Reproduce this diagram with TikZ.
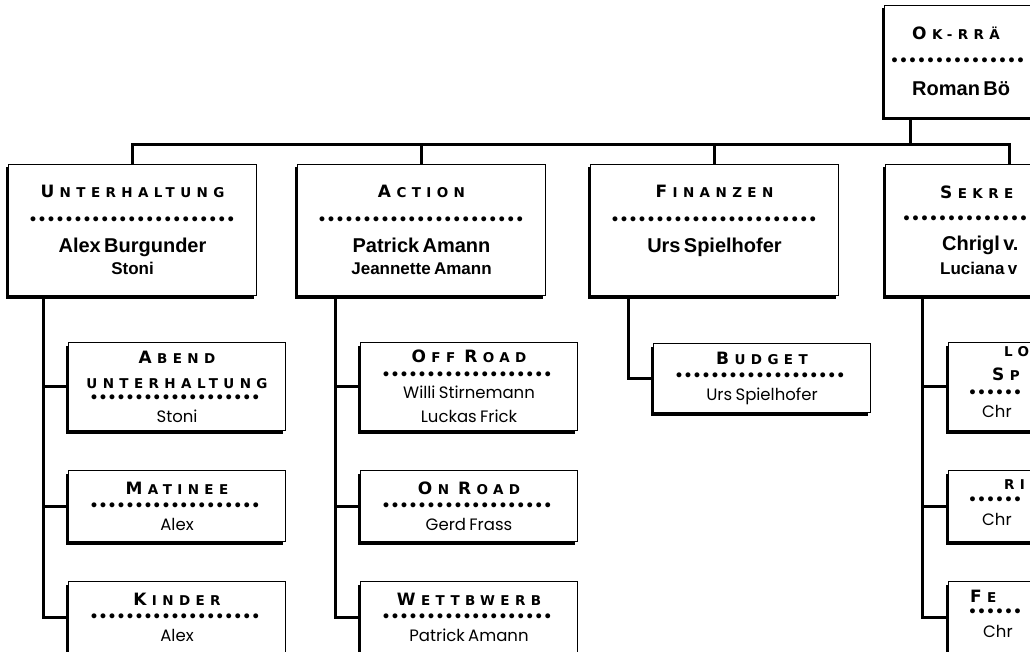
\documentclass[tikz,border=0pt]{standalone}
\usepackage{fontspec}
\usepackage{tikz}
\usetikzlibrary{positioning, shadows}
\newfontfamily\hdfont[LetterSpace=40]{DejaVu Sans}
\newfontfamily\nmfont{Liberation Sans}
\newfontfamily\ppfont{Poppins}
\newcommand\bg[1]{{\fontsize{17}{17}\selectfont #1}\kern5.4pt}
\newcommand\ws{\hspace{9pt}}
\newcommand\hd[2][20]{{\hdfont\bfseries\fontsize{13.5}{#1}\selectfont #2\par}}
\newcommand\dotrow[2][27]{{\hdfont\bfseries\fontsize{14}{#1}\selectfont\leavevmode\hbox to #2{\leaders\hbox to 9pt{\hss\textbullet\hss}\hfill}\par}}
\newcommand\nm[2][28]{{\nmfont\bfseries\fontsize{20}{#1}\selectfont #2\par}}
\newcommand\nmsm[2][22]{{\nmfont\bfseries\fontsize{17}{#1}\selectfont #2\par}}
\newcommand\pp[2][19.5]{{\ppfont\fontsize{16.5}{#1}\selectfont #2\par}}

\begin{document}
\begin{tikzpicture}[x=1pt, y=-1pt, node distance=39pt]
	\tikzstyle{box}=[draw, fill=white, line width=1pt, inner sep=0pt, align=center,
		execute at begin node=\setlength\parindent{0pt},
		drop shadow={shadow xshift=-3pt, shadow yshift=-3pt, fill=black, opacity=1}]
	\tikzstyle{chef}=[box, anchor=north west, text width=248pt, minimum height=131pt]
	\tikzstyle{sub}=[box, text width=217pt, minimum height=71pt]
	\tikzstyle{frag}=[anchor=west, inner sep=0pt, text width=200pt, align=left,
		execute at begin node=\setlength\parindent{0pt}]
	\tikzstyle{link}=[line width=3pt]
	
	\useasboundingbox (0,0) rectangle (1030,652);
	\clip (0,0) rectangle (1030,652);
	\fill[white] (0,0) rectangle (1030,652);
	
	\node[chef, minimum height=112pt] (l_0) at (884,5) {};
	\node[chef] (l_1) at (8,164) {\hd{\bg{U}NTERHALTUNG}\dotrow{208pt}\nm{Alex Burgunder}\nmsm{Stoni}};
	\node[chef] (l_2) at (297,164) {\hd{\bg{A}CTION}\dotrow{208pt}\nm{Patrick Amann}\nmsm{Jeannette Amann}};
	\node[chef] (l_3) at (590,164) {\hd{\bg{F}INANZEN}\dotrow{208pt}\nm{Urs Spielhofer}\nmsm{\mbox{}}};
	\node[chef] (l_4) at (885,164) {};
	
	\node[sub, anchor=north west, minimum height=88pt] (u_1) at (68,342) {\hd{\bg{A}BEND}\hd[25]{UNTERHALTUNG}\dotrow[14]{175pt}\pp[20]{Stoni}};
	\node[sub] (u_2) [below=of u_1] {\hd{\bg{M}ATINEE}\dotrow[16.5]{175pt}\pp{Alex}};
	\node[sub] (u_3) [below=of u_2] {\hd{\bg{K}INDER}\dotrow[16.5]{175pt}\pp{Alex}};
	
	\node[sub, anchor=north west, minimum height=88pt] (a_1) at (360,342) {\hd{\bg{O}FF\ws\bg{R}OAD}\dotrow[16.5]{175pt}\pp{Willi Stirnemann}\pp[24]{Luckas Frick}};
	\node[sub] (a_2) [below=of a_1] {\hd{\bg{O}N\ws\bg{R}OAD}\dotrow[16.5]{175pt}\pp{Gerd Frass}};
	\node[sub] (a_3) [below=of a_2] {\hd{\bg{W}ETTBWERB}\dotrow[16.5]{175pt}\pp{Patrick Amann}};
	
	\node[sub, anchor=north west, minimum height=69pt] (f_1) at (653,343) {\hd{\bg{B}UDGET}\dotrow[16.5]{175pt}\pp{Urs Spielhofer}};
	
	\node[sub, anchor=north west, minimum height=88pt] (s_1) at (948,342) {};
	\node[sub] (s_2) [below=of s_1] {};
	\node[sub] (s_3) [below=of s_2] {};
	
	\node[frag] (t_1) at (912,33) {\hd{\bg{O}K-RRÄ}};
	\node[frag] (t_2) at (890,62) {\dotrow{138pt}};
	\node[frag] (t_3) at (912,89) {\nm{Roman Bö}};
	\node[frag] (t_4) at (940,192) {\hd{\bg{S}EKRE}};
	\node[frag] (t_5) at (902,220) {\dotrow{126pt}};
	\node[frag] (t_6) at (942,245) {\nm{Chrigl v.}};
	\node[frag] (t_7) at (940,268) {\nmsm{Luciana v}};
	\node[frag] (t_8) at (1004,352) {\hd{LO}};
	\node[frag] (t_9) at (992,374) {\hd{\bg{S}P}};
	\node[frag] (t_10) at (968,394) {\dotrow{60pt}};
	\node[frag] (t_11) at (982,411) {\pp{Chr}};
	\node[frag] (t_12) at (1004,485) {\hd{RI}};
	\node[frag] (t_13) at (968,501) {\dotrow{60pt}};
	\node[frag] (t_14) at (982,519) {\pp{Chr}};
	\node[frag] (t_15) at (970,596) {\hd{\bg{F}E}};
	\node[frag] (t_16) at (968,613) {\dotrow{60pt}};
	\node[frag] (t_17) at (983,631) {\pp{Chr}};
	
	\coordinate (bus) at (910,145);
	\draw[link] ([xshift=26pt]l_0.south west) -- (bus);
	\draw[link] (l_1.north) |- (bus) -| (l_4.north);
	\draw[link] (l_2.north) -- (l_2.north |- bus);
	\draw[link] (l_3.north) -- (l_3.north |- bus);
	\foreach \n in {u_1,u_2,u_3}
		\draw[link] ([xshift=35pt]l_1.south west) |- (\n.west);
	\foreach \n in {a_1,a_2,a_3}
		\draw[link] ([xshift=38pt]l_2.south west) |- (\n.west);
	\draw[link] ([xshift=38pt]l_3.south west) |- (f_1.west);
	\foreach \n in {s_1,s_2,s_3}
		\draw[link] ([xshift=37pt]l_4.south west) |- (\n.west);
\end{tikzpicture}
\end{document}
